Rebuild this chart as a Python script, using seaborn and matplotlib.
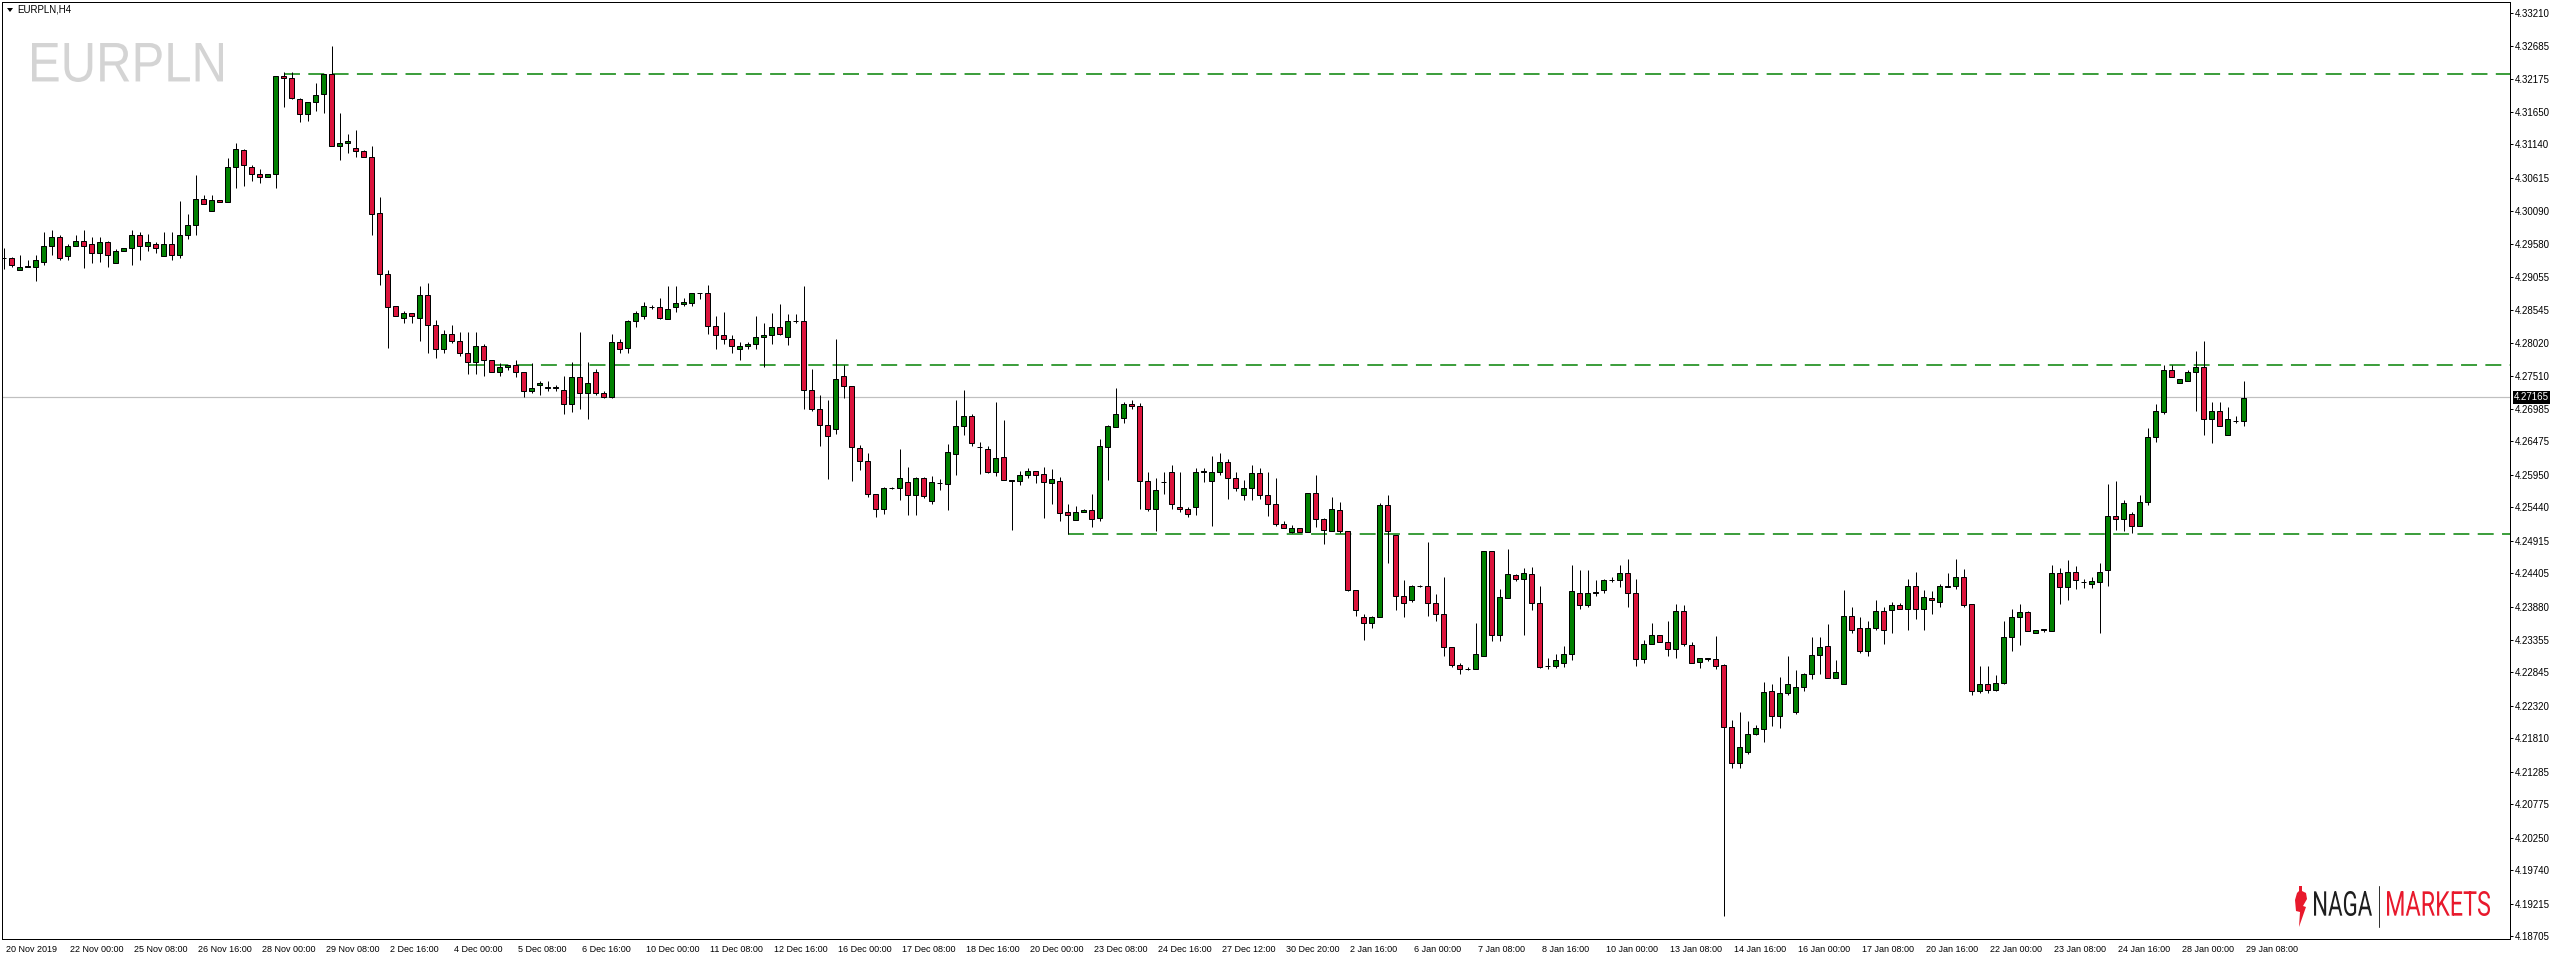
import numpy as np
import matplotlib
matplotlib.use("Agg")
import matplotlib.pyplot as plt
import seaborn as sns
from matplotlib.textpath import TextPath
from matplotlib.font_manager import FontProperties
from matplotlib.patches import PathPatch, Polygon
from matplotlib.transforms import Affine2D, ScaledTranslation, blended_transform_factory

# EURPLN H4 candles
opens = [
    4.2936, 4.2935, 4.2916, 4.2922, 4.2922, 4.2930, 4.2955, 4.2969, 4.2938, 4.2955,
    4.2963, 4.2957, 4.2944, 4.2960, 4.2927, 4.2947, 4.2951, 4.2971, 4.2955, 4.2958,
    4.2938, 4.2957, 4.2941, 4.2972, 4.2987, 4.3029, 4.3010, 4.3026, 4.3023, 4.3079,
    4.3106, 4.3079, 4.3067, 4.3063, 4.3067, 4.3221, 4.3219, 4.3186, 4.3162, 4.3180,
    4.3194, 4.3225, 4.3112, 4.3117, 4.3109, 4.3104, 4.3095, 4.3007, 4.2911, 4.2860,
    4.2841, 4.2849, 4.2842, 4.2877, 4.2831, 4.2792, 4.2817, 4.2805, 4.2787, 4.2772,
    4.2798, 4.2776, 4.2757, 4.2764, 4.2767, 4.2756, 4.2726, 4.2736, 4.2732, 4.2732,
    4.2729, 4.2706, 4.2748, 4.2724, 4.2757, 4.2724, 4.2718, 4.2803, 4.2795, 4.2836,
    4.2845, 4.2859, 4.2859, 4.2840, 4.2858, 4.2864, 4.2865, 4.2880, 4.2881, 4.2829,
    4.2815, 4.2809, 4.2792, 4.2798, 4.2801, 4.2811, 4.2814, 4.2828, 4.2812, 4.2837,
    4.2837, 4.2728, 4.2699, 4.2674, 4.2667, 4.2750, 4.2734, 4.2637, 4.2616, 4.2565,
    4.2541, 4.2574, 4.2574, 4.2583, 4.2563, 4.2590, 4.2554, 4.2582, 4.2580, 4.2628,
    4.2671, 4.2688, 4.2638, 4.2635, 4.2599, 4.2623, 4.2586, 4.2585, 4.2595, 4.2601,
    4.2596, 4.2582, 4.2585, 4.2536, 4.2524, 4.2536, 4.2539, 4.2527, 4.2638, 4.2670,
    4.2684, 4.2706, 4.2703, 4.2585, 4.2542, 4.2583, 4.2600, 4.2545, 4.2541, 4.2544,
    4.2600, 4.2586, 4.2600, 4.2615, 4.2590, 4.2564, 4.2574, 4.2598, 4.2564, 4.2549,
    4.2517, 4.2505, 4.2511, 4.2505, 4.2567, 4.2525, 4.2506, 4.2539, 4.2506, 4.2414,
    4.2371, 4.2362, 4.2372, 4.2547, 4.2501, 4.2404, 4.2399, 4.2420, 4.2420, 4.2393,
    4.2376, 4.2324, 4.2297, 4.2290, 4.2290, 4.2310, 4.2475, 4.2344, 4.2401, 4.2437,
    4.2431, 4.2439, 4.2393, 4.2294, 4.2294, 4.2300, 4.2314, 4.2410, 4.2390, 4.2410,
    4.2414, 4.2429, 4.2429, 4.2440, 4.2409, 4.2305, 4.2330, 4.2344, 4.2333, 4.2322,
    4.2381, 4.2327, 4.2301, 4.2307, 4.2305, 4.2296, 4.2199, 4.2142, 4.2160, 4.2188,
    4.2195, 4.2255, 4.2216, 4.2252, 4.2222, 4.2261, 4.2282, 4.2312, 4.2326, 4.2276,
    4.2266, 4.2374, 4.2354, 4.2318, 4.2354, 4.2381, 4.2382, 4.2390, 4.2384, 4.2421,
    4.2385, 4.2401, 4.2395, 4.2418, 4.2421, 4.2434, 4.2392, 4.2255, 4.2266, 4.2257,
    4.2268, 4.2341, 4.2371, 4.2379, 4.2346, 4.2352, 4.2349, 4.2440, 4.2418, 4.2443,
    4.2426, 4.2424, 4.2426, 4.2446, 4.2531, 4.2525, 4.2533, 4.2514, 4.2552, 4.2654,
    4.2693, 4.2760, 4.2740, 4.2743, 4.2756, 4.2764, 4.2682, 4.2696, 4.2658, 4.2680,
    4.2680,
]
highs = [
    4.2951, 4.2937, 4.2941, 4.2932, 4.2941, 4.2976, 4.2979, 4.2972, 4.2957, 4.2971,
    4.2980, 4.2968, 4.2969, 4.2963, 4.2949, 4.2952, 4.2979, 4.2976, 4.2974, 4.2961,
    4.2976, 4.2976, 4.3025, 4.3004, 4.3066, 4.3034, 4.3034, 4.3027, 4.3093, 4.3117,
    4.3107, 4.3081, 4.3076, 4.3068, 4.3221, 4.3228, 4.3228, 4.3187, 4.3181, 4.3211,
    4.3225, 4.3268, 4.3164, 4.3131, 4.3136, 4.3106, 4.3111, 4.3032, 4.2916, 4.2861,
    4.2853, 4.2849, 4.2891, 4.2897, 4.2839, 4.2822, 4.2831, 4.2819, 4.2819, 4.2820,
    4.2800, 4.2776, 4.2770, 4.2768, 4.2775, 4.2756, 4.2770, 4.2743, 4.2743, 4.2736,
    4.2751, 4.2773, 4.2820, 4.2773, 4.2762, 4.2726, 4.2817, 4.2809, 4.2839, 4.2853,
    4.2867, 4.2862, 4.2873, 4.2891, 4.2891, 4.2873, 4.2881, 4.2881, 4.2893, 4.2845,
    4.2851, 4.2814, 4.2804, 4.2803, 4.2845, 4.2834, 4.2850, 4.2864, 4.2848, 4.2848,
    4.2891, 4.2761, 4.2721, 4.2712, 4.2809, 4.2768, 4.2735, 4.2642, 4.2630, 4.2565,
    4.2576, 4.2576, 4.2635, 4.2607, 4.2591, 4.2591, 4.2593, 4.2588, 4.2643, 4.2713,
    4.2729, 4.2690, 4.2646, 4.2641, 4.2709, 4.2681, 4.2587, 4.2601, 4.2605, 4.2601,
    4.2607, 4.2604, 4.2591, 4.2549, 4.2546, 4.2541, 4.2565, 4.2651, 4.2674, 4.2732,
    4.2710, 4.2712, 4.2708, 4.2600, 4.2590, 4.2600, 4.2610, 4.2600, 4.2544, 4.2605,
    4.2605, 4.2625, 4.2630, 4.2620, 4.2600, 4.2587, 4.2610, 4.2605, 4.2600, 4.2590,
    4.2523, 4.2516, 4.2511, 4.2567, 4.2595, 4.2527, 4.2560, 4.2553, 4.2506, 4.2414,
    4.2377, 4.2373, 4.2550, 4.2564, 4.2501, 4.2430, 4.2422, 4.2422, 4.2489, 4.2407,
    4.2434, 4.2324, 4.2300, 4.2293, 4.2362, 4.2476, 4.2476, 4.2416, 4.2478, 4.2439,
    4.2448, 4.2450, 4.2420, 4.2307, 4.2313, 4.2326, 4.2453, 4.2445, 4.2445, 4.2429,
    4.2431, 4.2434, 4.2454, 4.2462, 4.2432, 4.2335, 4.2362, 4.2344, 4.2366, 4.2392,
    4.2390, 4.2332, 4.2307, 4.2307, 4.2342, 4.2298, 4.2210, 4.2223, 4.2209, 4.2202,
    4.2270, 4.2267, 4.2278, 4.2311, 4.2288, 4.2283, 4.2340, 4.2340, 4.2360, 4.2304,
    4.2414, 4.2388, 4.2371, 4.2366, 4.2399, 4.2387, 4.2396, 4.2393, 4.2432, 4.2442,
    4.2414, 4.2412, 4.2423, 4.2440, 4.2462, 4.2447, 4.2392, 4.2294, 4.2294, 4.2280,
    4.2365, 4.2384, 4.2392, 4.2381, 4.2352, 4.2352, 4.2454, 4.2448, 4.2461, 4.2451,
    4.2431, 4.2435, 4.2457, 4.2580, 4.2586, 4.2556, 4.2536, 4.2564, 4.2669, 4.2706,
    4.2768, 4.2768, 4.2746, 4.2760, 4.2790, 4.2805, 4.2710, 4.2709, 4.2701, 4.2688,
    4.2743,
]
lows = [
    4.2918, 4.2922, 4.2916, 4.2922, 4.2900, 4.2925, 4.2940, 4.2932, 4.2932, 4.2955,
    4.2920, 4.2927, 4.2929, 4.2922, 4.2927, 4.2946, 4.2924, 4.2932, 4.2947, 4.2944,
    4.2938, 4.2932, 4.2935, 4.2966, 4.2971, 4.3021, 4.3010, 4.3023, 4.3023, 4.3045,
    4.3048, 4.3057, 4.3054, 4.3063, 4.3046, 4.3173, 4.3186, 4.3150, 4.3151, 4.3167,
    4.3164, 4.3111, 4.3090, 4.3100, 4.3095, 4.3095, 4.2972, 4.2894, 4.2794, 4.2844,
    4.2834, 4.2833, 4.2806, 4.2787, 4.2778, 4.2787, 4.2802, 4.2781, 4.2754, 4.2754,
    4.2751, 4.2756, 4.2751, 4.2759, 4.2748, 4.2718, 4.2724, 4.2721, 4.2726, 4.2726,
    4.2690, 4.2694, 4.2698, 4.2683, 4.2720, 4.2716, 4.2716, 4.2787, 4.2786, 4.2828,
    4.2840, 4.2855, 4.2840, 4.2840, 4.2851, 4.2861, 4.2861, 4.2872, 4.2817, 4.2792,
    4.2801, 4.2787, 4.2776, 4.2792, 4.2793, 4.2765, 4.2801, 4.2815, 4.2799, 4.2833,
    4.2698, 4.2695, 4.2641, 4.2588, 4.2659, 4.2716, 4.2585, 4.2602, 4.2560, 4.2529,
    4.2533, 4.2573, 4.2555, 4.2532, 4.2532, 4.2558, 4.2549, 4.2571, 4.2540, 4.2594,
    4.2657, 4.2641, 4.2596, 4.2598, 4.2593, 4.2587, 4.2508, 4.2579, 4.2590, 4.2582,
    4.2527, 4.2549, 4.2522, 4.2502, 4.2524, 4.2536, 4.2513, 4.2522, 4.2587, 4.2670,
    4.2676, 4.2698, 4.2542, 4.2538, 4.2507, 4.2565, 4.2542, 4.2536, 4.2529, 4.2532,
    4.2583, 4.2515, 4.2595, 4.2557, 4.2570, 4.2556, 4.2556, 4.2557, 4.2531, 4.2515,
    4.2512, 4.2503, 4.2505, 4.2505, 4.2513, 4.2487, 4.2506, 4.2503, 4.2412, 4.2374,
    4.2336, 4.2355, 4.2371, 4.2457, 4.2382, 4.2371, 4.2396, 4.2418, 4.2374, 4.2365,
    4.2311, 4.2293, 4.2282, 4.2288, 4.2290, 4.2310, 4.2334, 4.2334, 4.2401, 4.2428,
    4.2344, 4.2382, 4.2291, 4.2290, 4.2291, 4.2293, 4.2304, 4.2385, 4.2388, 4.2404,
    4.2409, 4.2426, 4.2418, 4.2388, 4.2294, 4.2300, 4.2329, 4.2333, 4.2310, 4.2307,
    4.2326, 4.2300, 4.2291, 4.2302, 4.2290, 4.1902, 4.2135, 4.2134, 4.2157, 4.2186,
    4.2175, 4.2201, 4.2197, 4.2249, 4.2219, 4.2255, 4.2275, 4.2282, 4.2276, 4.2276,
    4.2266, 4.2346, 4.2315, 4.2310, 4.2351, 4.2330, 4.2346, 4.2384, 4.2351, 4.2368,
    4.2352, 4.2377, 4.2388, 4.2418, 4.2415, 4.2388, 4.2249, 4.2252, 4.2252, 4.2255,
    4.2266, 4.2319, 4.2327, 4.2349, 4.2346, 4.2348, 4.2349, 4.2392, 4.2398, 4.2415,
    4.2417, 4.2417, 4.2347, 4.2420, 4.2509, 4.2506, 4.2503, 4.2514, 4.2547, 4.2646,
    4.2691, 4.2748, 4.2740, 4.2743, 4.2695, 4.2658, 4.2645, 4.2671, 4.2658, 4.2676,
    4.2671,
]
closes = [
    4.2936, 4.2925, 4.2922, 4.2922, 4.2932, 4.2955, 4.2969, 4.2935, 4.2954, 4.2963,
    4.2955, 4.2944, 4.2960, 4.2940, 4.2947, 4.2951, 4.2972, 4.2955, 4.2961, 4.2951,
    4.2958, 4.2941, 4.2972, 4.2987, 4.3029, 4.3021, 4.3026, 4.3023, 4.3079, 4.3107,
    4.3081, 4.3067, 4.3063, 4.3067, 4.3221, 4.3219, 4.3187, 4.3162, 4.3180, 4.3191,
    4.3225, 4.3112, 4.3117, 4.3120, 4.3104, 4.3095, 4.3005, 4.2911, 4.2858, 4.2844,
    4.2849, 4.2844, 4.2877, 4.2831, 4.2792, 4.2817, 4.2805, 4.2787, 4.2773, 4.2797,
    4.2776, 4.2757, 4.2764, 4.2767, 4.2756, 4.2726, 4.2732, 4.2739, 4.2732, 4.2732,
    4.2706, 4.2748, 4.2724, 4.2740, 4.2724, 4.2718, 4.2804, 4.2793, 4.2836, 4.2850,
    4.2861, 4.2859, 4.2842, 4.2856, 4.2865, 4.2867, 4.2880, 4.2880, 4.2829, 4.2815,
    4.2809, 4.2797, 4.2798, 4.2801, 4.2812, 4.2814, 4.2828, 4.2817, 4.2837, 4.2837,
    4.2729, 4.2699, 4.2674, 4.2656, 4.2746, 4.2735, 4.2638, 4.2616, 4.2565, 4.2541,
    4.2574, 4.2574, 4.2590, 4.2563, 4.2590, 4.2561, 4.2583, 4.2582, 4.2631, 4.2671,
    4.2688, 4.2645, 4.2638, 4.2599, 4.2621, 4.2587, 4.2586, 4.2595, 4.2601, 4.2595,
    4.2583, 4.2588, 4.2535, 4.2532, 4.2536, 4.2539, 4.2526, 4.2641, 4.2671, 4.2690,
    4.2706, 4.2703, 4.2585, 4.2542, 4.2571, 4.2583, 4.2549, 4.2541, 4.2534, 4.2600,
    4.2600, 4.2600, 4.2615, 4.2590, 4.2574, 4.2574, 4.2598, 4.2564, 4.2549, 4.2517,
    4.2512, 4.2511, 4.2505, 4.2566, 4.2525, 4.2508, 4.2541, 4.2506, 4.2414, 4.2382,
    4.2362, 4.2371, 4.2547, 4.2506, 4.2404, 4.2393, 4.2420, 4.2420, 4.2393, 4.2376,
    4.2324, 4.2296, 4.2290, 4.2290, 4.2313, 4.2475, 4.2344, 4.2403, 4.2439, 4.2431,
    4.2440, 4.2393, 4.2293, 4.2294, 4.2304, 4.2314, 4.2412, 4.2390, 4.2410, 4.2410,
    4.2429, 4.2429, 4.2440, 4.2409, 4.2305, 4.2329, 4.2344, 4.2333, 4.2322, 4.2381,
    4.2329, 4.2300, 4.2307, 4.2305, 4.2294, 4.2199, 4.2143, 4.2167, 4.2188, 4.2197,
    4.2254, 4.2216, 4.2252, 4.2266, 4.2261, 4.2282, 4.2312, 4.2324, 4.2276, 4.2285,
    4.2374, 4.2352, 4.2318, 4.2355, 4.2381, 4.2351, 4.2390, 4.2384, 4.2421, 4.2385,
    4.2403, 4.2398, 4.2420, 4.2421, 4.2435, 4.2390, 4.2255, 4.2266, 4.2257, 4.2268,
    4.2341, 4.2371, 4.2379, 4.2349, 4.2351, 4.2352, 4.2440, 4.2418, 4.2443, 4.2429,
    4.2426, 4.2428, 4.2442, 4.2531, 4.2525, 4.2550, 4.2514, 4.2552, 4.2654, 4.2695,
    4.2760, 4.2748, 4.2745, 4.2756, 4.2764, 4.2682, 4.2696, 4.2671, 4.2682, 4.2680,
    4.2716,
]

date_labels = [
    "20 Nov 2019", "22 Nov 00:00", "25 Nov 08:00", "26 Nov 16:00", "28 Nov 00:00",
    "29 Nov 08:00", "2 Dec 16:00", "4 Dec 00:00", "5 Dec 08:00", "6 Dec 16:00",
    "10 Dec 00:00", "11 Dec 08:00", "12 Dec 16:00", "16 Dec 00:00", "17 Dec 08:00",
    "18 Dec 16:00", "20 Dec 00:00", "23 Dec 08:00", "24 Dec 16:00", "27 Dec 12:00",
    "30 Dec 20:00", "2 Jan 16:00", "6 Jan 00:00", "7 Jan 08:00", "8 Jan 16:00",
    "10 Jan 00:00", "13 Jan 08:00", "14 Jan 16:00", "16 Jan 00:00", "17 Jan 08:00",
    "20 Jan 16:00", "22 Jan 00:00", "23 Jan 08:00", "24 Jan 16:00", "28 Jan 00:00",
    "29 Jan 08:00",
]
price_ticks = [
    4.33210, 4.32685, 4.32175, 4.31650, 4.31140, 4.30615, 4.30090, 4.29580,
    4.29055, 4.28545, 4.28020, 4.27510, 4.26985, 4.26475, 4.25950, 4.25440,
    4.24915, 4.24405, 4.23880, 4.23355, 4.22845, 4.22320, 4.21810, 4.21285,
    4.20775, 4.20250, 4.19740, 4.19215, 4.18705,
]
last_price = 4.27165
level_prices = [4.3225, 4.27683, 4.2502]
level_starts = [35, 58, 133]
symbol = "EURPLN"
timeframe = "H4"

GREEN = "#008000"
RED = "#dc143c"

sns.set_style("white")
plt.rcParams["font.family"] = ["Liberation Sans", "DejaVu Sans"]
plt.rcParams["lines.scale_dashes"] = False

W, H = 2556, 960
PX = 0.72  # one pixel in points at dpi 100
fig = plt.figure(figsize=(W / 100, H / 100), dpi=100)
fig.patch.set_facecolor("white")
ax = fig.add_axes([2 / W, 21 / H, 2508 / W, 937 / H])
ax.set_facecolor("white")

o = np.array(opens)
h = np.array(highs)
l = np.array(lows)
c = np.array(closes)
x = np.arange(len(o))

# price line and levels
ax.axhline(last_price, color="#c0c0c0", lw=1.2 * PX, zorder=1)
for lvl, start in zip(level_prices, level_starts):
    ax.hlines(lvl, start, 313.3, colors=GREEN, lw=1.5 * PX, linestyles=(0, (11.5, 6.0)), zorder=1)

# candles
ax.vlines(x, l, h, color="black", lw=PX, zorder=2)
body_low = np.minimum(o, c)
body_h = np.maximum(np.abs(c - o), 0.00003)
cols = np.where(c > o, GREEN, np.where(c < o, RED, "black"))
ax.bar(x, body_h, bottom=body_low, width=0.6, color=cols, edgecolor="black", linewidth=PX, zorder=3)

ax.set_xlim(-0.2, 313.3)
ax.set_ylim(4.18658, 4.33378)

# right price scale
ax.yaxis.tick_right()
ax.set_yticks(price_ticks)
ax.set_yticklabels([f"{v:.5f}" for v in price_ticks], fontsize=7)
ax.tick_params(axis="y", direction="out", length=3 * PX, width=PX, pad=1.5, colors="black")

# time scale
ax.set_xticks(np.arange(0, len(date_labels) * 8, 8))
ax.set_xticklabels(date_labels, fontsize=6.5, ha="left")
ax.tick_params(axis="x", direction="out", length=4 * PX, width=PX, pad=1.5, colors="black")
for t in ax.get_xticklabels():
    t.set_transform(t.get_transform() + ScaledTranslation(2 / 100, 0, fig.dpi_scale_trans))

for sp in ax.spines.values():
    sp.set_color("black")
    sp.set_linewidth(PX)
ax.grid(False)

# last price box
bt = blended_transform_factory(ax.transAxes, ax.transData)
ax.text(1.0, last_price, f"{last_price:.5f}", transform=bt + ScaledTranslation(4 / 100, 0, fig.dpi_scale_trans),
        color="white", fontsize=7, va="center", ha="left", clip_on=False, zorder=10,
        bbox=dict(boxstyle="square,pad=0.12", fc="black", ec="none"))

# overlay in pixel coordinates
ov = fig.add_axes([0, 0, 1, 1])
ov.set_xlim(0, W)
ov.set_ylim(H, 0)
ov.axis("off")


def fit_text(s, x0, x1, y0, y1, color, family="Liberation Sans", weight="normal"):
    tp = TextPath((0, 0), s, size=100, prop=FontProperties(family=family, weight=weight))
    ext = tp.get_extents()
    sx = (x1 - x0) / ext.width
    sy = (y1 - y0) / ext.height
    tr = Affine2D().translate(-ext.x0, -ext.y0).scale(sx, -sy).translate(x0, y1)
    ov.add_patch(PathPatch(tr.transform_path(tp), fc=color, ec="none", lw=0))


ov.add_patch(Polygon([(7, 8), (13, 8), (10, 12)], closed=True, fc="black", ec="none"))
ov.text(17, 10, f"{symbol},{timeframe}", fontsize=7, va="center", ha="left", color="black")

fit_text(symbol, 32, 223, 43, 82, "#d4d4d4")

# NAGA MARKETS logo
chili = [(2299, 886), (2302, 886), (2302, 891), (2306, 893), (2307, 899), (2303, 906),
         (2306, 907), (2299, 927), (2300, 912), (2296, 911), (2295, 900), (2297, 893), (2299, 891)]
ov.add_patch(Polygon(chili, closed=True, fc="#e8192c", ec="none"))
fit_text("NAGA", 2314, 2372, 891, 916, "#1e1e1e", family="Roboto")
ov.plot([2379, 2379], [886, 927], color="#333333", lw=PX)
fit_text("MARKETS", 2387, 2490, 891, 916, "#e8192c", family="Roboto")

fig.savefig("out.png", dpi=100, facecolor="white")
